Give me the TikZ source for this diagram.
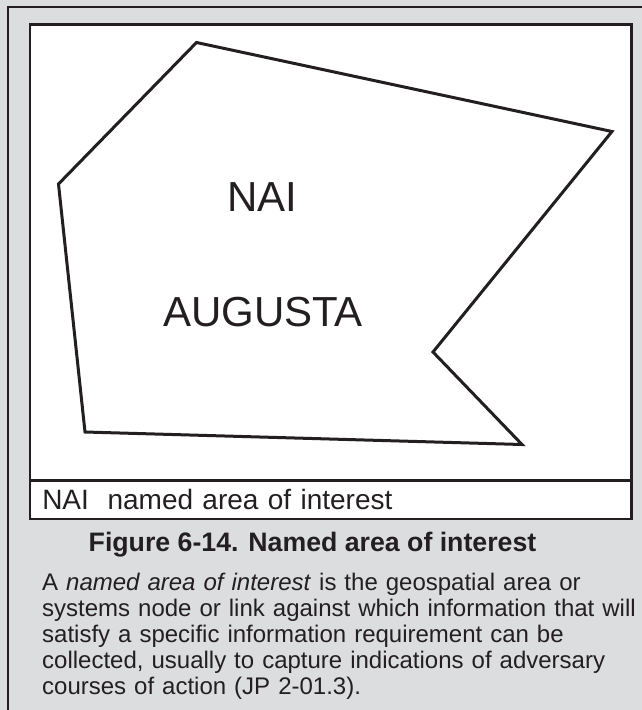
\documentclass[tikz,border=0pt]{standalone}
\usepackage{fontspec}
\setmainfont{Liberation Sans}
\usepackage{xcolor}
\usetikzlibrary{positioning}
\definecolor{panelgray}{RGB}{220,221,223}
\definecolor{ink}{RGB}{35,31,32}

\begin{document}
\begin{tikzpicture}[x=1pt,y=-1pt,
  frame/.style={draw=ink,line width=2pt},
  mapbox/.style={draw=ink,fill=white,line width=2.5pt,inner sep=0pt,outer sep=0pt,anchor=north west},
  area/.style={draw=ink,line width=3pt,line join=miter},
  maplab/.style={inner sep=0pt,text=ink,font=\fontsize{42}{48}\selectfont},
  legtxt/.style={font=\fontsize{28}{32}\selectfont,text=ink,align=left},
  captxt/.style={inner sep=0pt,text=ink,font=\bfseries\fontsize{26.7}{32}\selectfont},
  bodytxt/.style={inner sep=0pt,text=ink,text width=595pt,align=left,font=\fontsize{24}{26}\selectfont,
                  execute at begin node={\setlength{\baselineskip}{26pt}}}
]
% page panel
\fill[panelgray] (0,0) rectangle (642,710);
\useasboundingbox (0,0) rectangle (642,710);
\draw[frame] (7.7,715) -- (7.7,6.5) -- (650,6.5);
% map window and legend strip
\node[mapbox,minimum width=601.5pt,minimum height=456.4pt] (map) at (30,24.3) {};
\node[mapbox,legtxt,minimum width=601.5pt,minimum height=38.3pt,
      text width=577pt,inner xsep=12.25pt] (legend) at (30,480.7) {NAI\ \ named area of interest};
% named area outline
\draw[area] (196.5,42.5) -- (612,131.5) -- (433,352) -- (522,444.5) -- (85,432) -- (58.5,184) -- cycle;
\node[maplab] (nai) at (262.5,197) {NAI};
\node[maplab] (augusta) at (263,312) {AUGUSTA};
% caption and definition
\node[captxt,anchor=base] (caption) at (312.5,551) {Figure 6-14. Named area of interest};
\node[bodytxt,anchor=north west] (defn) at (42,573)
  {A \textit{named area of interest} is the geospatial area or\newline
   systems node or link against which information that will\newline
   satisfy a specific information requirement can be\newline
   collected, usually to capture indications of adversary\newline
   courses of action (JP 2-01.3).};
\end{tikzpicture}
\end{document}
